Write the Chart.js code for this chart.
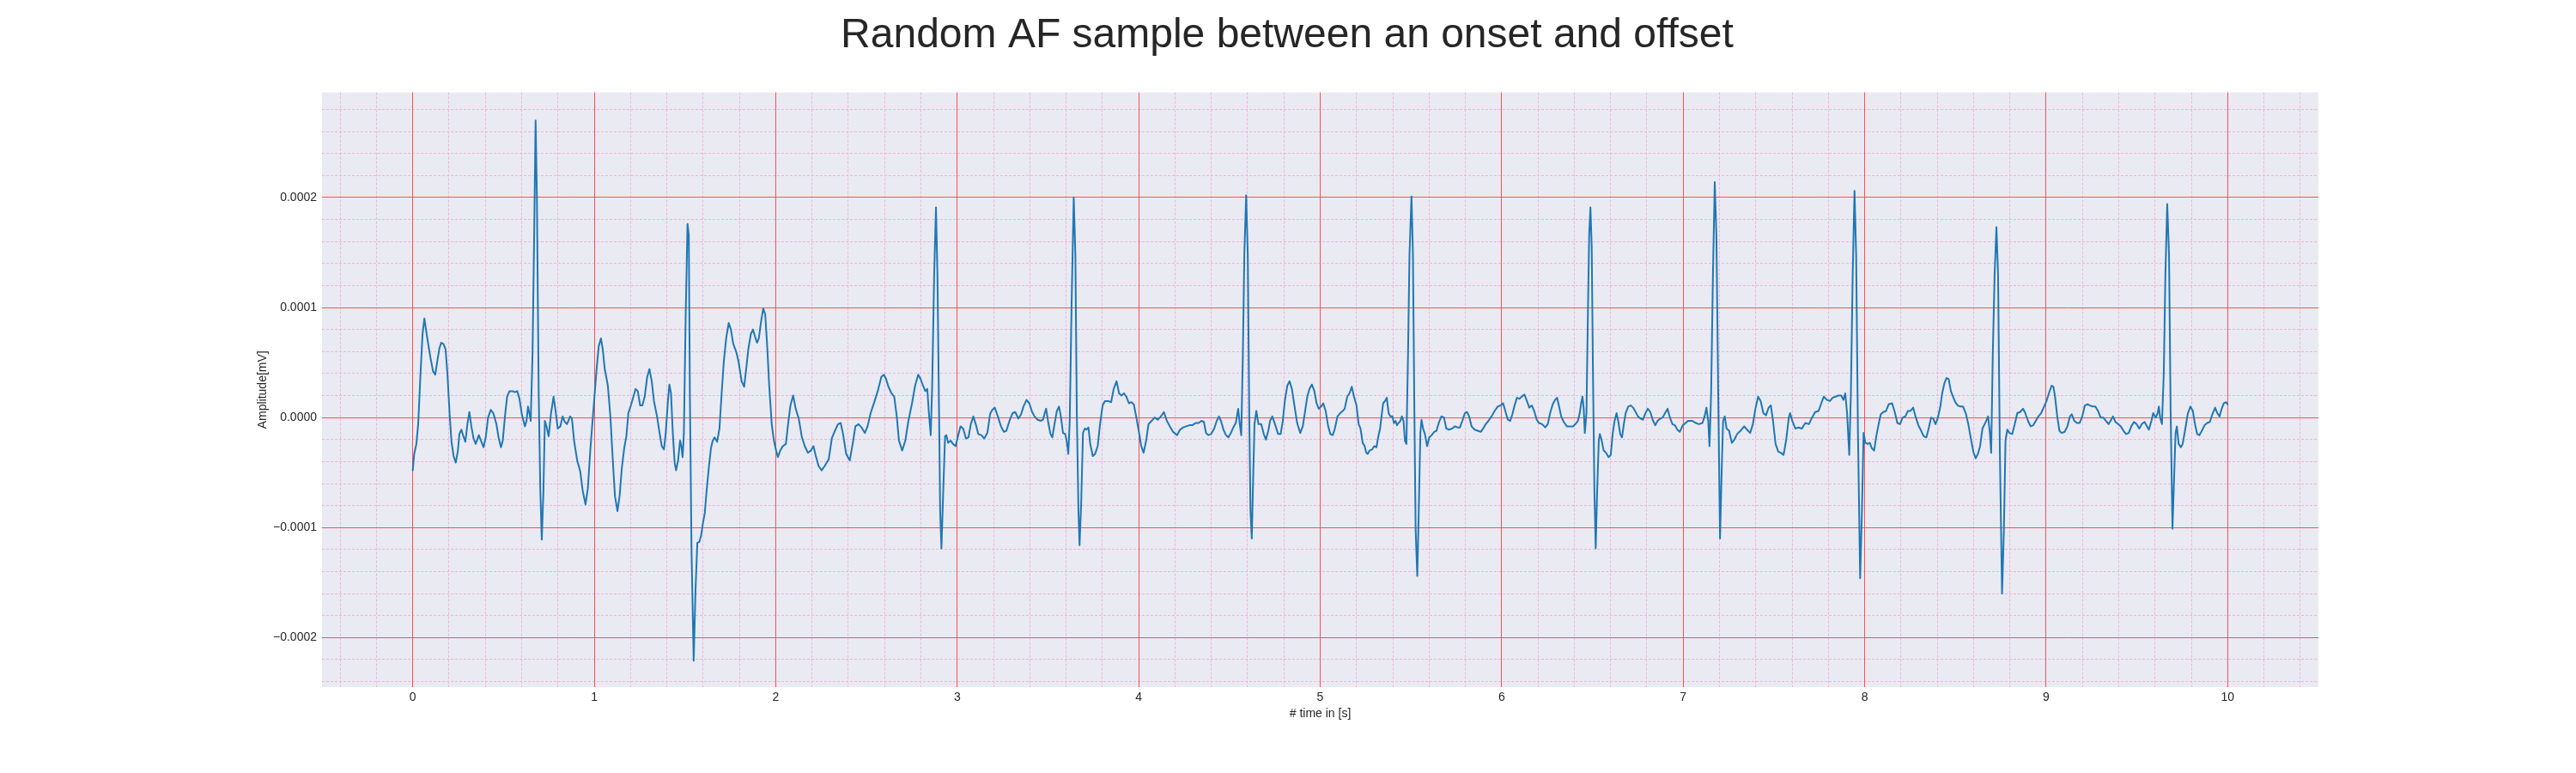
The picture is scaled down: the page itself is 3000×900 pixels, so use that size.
<!DOCTYPE html>
<html>
<head>
<meta charset="utf-8">
<script src="https://cdn.jsdelivr.net/npm/chart.js@4.4.1/dist/chart.umd.min.js"></script>
<style>
  html, body { margin: 0; padding: 0; background: #ffffff; }
  #wrap { width: 3000px; height: 900px; }
</style>
</head>
<body>
<div id="wrap"><canvas id="c" width="3000" height="900"></canvas></div>
<script>
// ---------------- DATA ----------------
const chartTitle = 'Random AF sample between an onset and offset';
const xAxisLabel = '# time in [s]';
const yAxisLabel = 'Amplitude[mV]';

// time in seconds, segment 0 - 2 s
const timeSeg1 = [0.000,0.008,0.020,0.030,0.042,0.054,0.064,0.073,0.085,0.098,0.112,0.124,0.135,0.147,0.157,0.169,0.181,0.191,0.203,0.213,0.225,0.237,0.249,0.257,0.268,0.279,0.290,0.301,0.312,0.323,0.335,0.347,0.364,0.376,0.390,0.403,0.415,0.430,0.444,0.461,0.474,0.486,0.496,0.508,0.520,0.533,0.550,0.562,0.576,0.588,0.601,0.618,0.627,0.635,0.644,0.650,0.660,0.669,0.677,0.684,0.694,0.703,0.711,0.720,0.728,0.737,0.749,0.762,0.776,0.787,0.799,0.813,0.826,0.838,0.850,0.867,0.877,0.889,0.906,0.923,0.936,0.952,0.965,0.979,0.996,1.013,1.025,1.037,1.047,1.058,1.075,1.089,1.101,1.114,1.128,1.140,1.152,1.165,1.177,1.188,1.202,1.216,1.228,1.240,1.253,1.265,1.278,1.292,1.304,1.317,1.329,1.346,1.360,1.372,1.384,1.394,1.406,1.414,1.423,1.433,1.443,1.451,1.462,1.473,1.480,1.487,1.494,1.504,1.514,1.521,1.527,1.536,1.548,1.558,1.568,1.579,1.589,1.599,1.609,1.619,1.631,1.643,1.653,1.663,1.677,1.690,1.702,1.714,1.727,1.741,1.753,1.766,1.782,1.795,1.812,1.826,1.837,1.849,1.863,1.875,1.885,1.897,1.907,1.919,1.931,1.942,1.953,1.964,1.978,1.990,2.002];
const ampSeg1 = [-4.8e-5,-3.3e-5,-2.4e-5,-0.6e-5,3.7e-5,7.6e-5,9.0e-5,8.0e-5,6.7e-5,5.4e-5,4.2e-5,3.9e-5,5.1e-5,6.3e-5,6.8e-5,6.7e-5,6.2e-5,4.0e-5,0.4e-5,-2.1e-5,-3.5e-5,-4.1e-5,-3.0e-5,-1.5e-5,-1.1e-5,-1.7e-5,-2.2e-5,-0.6e-5,0.5e-5,-0.8e-5,-1.9e-5,-2.4e-5,-1.6e-5,-2.1e-5,-2.7e-5,-1.7e-5,0,0.7e-5,0.4e-5,-0.6e-5,-1.9e-5,-2.7e-5,-2.1e-5,0.1e-5,1.9e-5,2.4e-5,2.4e-5,2.3e-5,2.4e-5,1.7e-5,0.3e-5,-0.8e-5,-0.3e-5,1.0e-5,0.3e-5,-0.3e-5,5.8e-5,16.6e-5,27.0e-5,20.1e-5,2.2e-5,-6.7e-5,-11.1e-5,-6.7e-5,-0.3e-5,-0.8e-5,-1.7e-5,0.4e-5,1.9e-5,0.6e-5,-1.0e-5,-0.8e-5,0.1e-5,-0.4e-5,-0.6e-5,0.1e-5,-0.1e-5,-2.1e-5,-3.9e-5,-4.9e-5,-6.6e-5,-7.9e-5,-6.4e-5,-2.8e-5,0.8e-5,4.4e-5,6.5e-5,7.2e-5,6.2e-5,4.4e-5,2.9e-5,0.1e-5,-3.5e-5,-7.1e-5,-8.5e-5,-7.1e-5,-4.6e-5,-2.8e-5,-1.7e-5,0.4e-5,1.1e-5,1.9e-5,2.6e-5,2.4e-5,1.1e-5,1.1e-5,1.9e-5,3.7e-5,4.4e-5,3.3e-5,1.5e-5,0.1e-5,-1.4e-5,-2.6e-5,-2.9e-5,-1.4e-5,1.5e-5,3.0e-5,2.2e-5,-1.4e-5,-4.1e-5,-4.8e-5,-3.9e-5,-2.1e-5,-2.6e-5,-3.6e-5,-1.4e-5,9.4e-5,17.6e-5,16.6e-5,2.2e-5,-12.1e-5,-22.1e-5,-15.7e-5,-11.4e-5,-11.3e-5,-10.7e-5,-9.6e-5,-8.7e-5,-6.7e-5,-4.6e-5,-2.8e-5,-2.1e-5,-1.8e-5,-2.2e-5,-1.0e-5,2.2e-5,5.1e-5,7.2e-5,8.6e-5,8.0e-5,6.7e-5,6.0e-5,5.1e-5,3.3e-5,2.8e-5,4.4e-5,6.2e-5,7.6e-5,8.0e-5,7.4e-5,6.8e-5,7.2e-5,8.7e-5,9.9e-5,9.4e-5,6.5e-5,2.9e-5,-0.6e-5,-2.1e-5,-3.0e-5];

// segment 2 - 4.35 s
const timeSeg2 = [2.012,2.025,2.039,2.056,2.068,2.081,2.096,2.110,2.127,2.143,2.160,2.177,2.194,2.208,2.221,2.236,2.253,2.270,2.292,2.309,2.326,2.343,2.358,2.371,2.388,2.408,2.424,2.439,2.456,2.473,2.491,2.506,2.523,2.545,2.562,2.582,2.596,2.608,2.621,2.638,2.653,2.667,2.679,2.697,2.714,2.731,2.751,2.768,2.785,2.798,2.812,2.824,2.835,2.844,2.854,2.862,2.873,2.883,2.891,2.900,2.906,2.913,2.923,2.933,2.940,2.950,2.964,2.977,2.991,3.004,3.018,3.033,3.048,3.062,3.075,3.089,3.102,3.116,3.133,3.149,3.166,3.181,3.193,3.207,3.224,3.241,3.257,3.271,3.288,3.305,3.320,3.337,3.352,3.365,3.382,3.397,3.413,3.426,3.443,3.460,3.473,3.482,3.490,3.502,3.514,3.524,3.536,3.549,3.561,3.571,3.583,3.595,3.603,3.612,3.620,3.630,3.642,3.651,3.659,3.668,3.674,3.683,3.693,3.703,3.713,3.723,3.733,3.747,3.760,3.774,3.787,3.801,3.814,3.831,3.848,3.862,3.878,3.892,3.905,3.919,3.932,3.946,3.959,3.973,3.986,4.000,4.014,4.027,4.041,4.054,4.071,4.088,4.105,4.122,4.139,4.155,4.172,4.189,4.211,4.228,4.245,4.262,4.279,4.296,4.313,4.330,4.346];
const ampSeg2 = [-3.6e-5,-3.0e-5,-2.6e-5,-2.4e-5,-0.6e-5,1.1e-5,2.0e-5,0.8e-5,-0.1e-5,-1.7e-5,-2.6e-5,-3.2e-5,-3.0e-5,-2.6e-5,-3.5e-5,-4.4e-5,-4.8e-5,-4.4e-5,-3.8e-5,-1.9e-5,-1.2e-5,-0.6e-5,-0.5e-5,-1.5e-5,-3.3e-5,-3.9e-5,-2.4e-5,-0.8e-5,-0.6e-5,-0.9e-5,-1.4e-5,-0.8e-5,0.4e-5,1.5e-5,2.4e-5,3.7e-5,3.9e-5,3.5e-5,2.8e-5,2.2e-5,1.9e-5,0.1e-5,-2.1e-5,-3.0e-5,-2.1e-5,-0.3e-5,1.3e-5,2.9e-5,3.9e-5,3.5e-5,2.9e-5,2.4e-5,2.6e-5,0.4e-5,-1.6e-5,2.9e-5,13.0e-5,19.1e-5,13.0e-5,0.4e-5,-8.5e-5,-11.9e-5,-6.7e-5,-1.7e-5,-1.6e-5,-2.3e-5,-2.1e-5,-2.4e-5,-2.6e-5,-1.7e-5,-0.8e-5,-1.0e-5,-1.9e-5,-1.8e-5,-0.6e-5,0.1e-5,-0.6e-5,-1.5e-5,-1.6e-5,-1.9e-5,-1.4e-5,0.3e-5,0.7e-5,0.9e-5,0.1e-5,-0.8e-5,-1.3e-5,-1.2e-5,-0.3e-5,0.4e-5,0.5e-5,-0.1e-5,0.3e-5,1.0e-5,1.6e-5,1.3e-5,0.5e-5,0.1e-5,-0.2e-5,-0.3e-5,-0.2e-5,0.4e-5,0.8e-5,-0.5e-5,-1.5e-5,-1.8e-5,-0.6e-5,0.6e-5,1.0e-5,0.1e-5,-1.4e-5,-1.5e-5,-2.1e-5,-3.3e-5,-0.3e-5,10.1e-5,20.0e-5,14.8e-5,0.4e-5,-8.5e-5,-11.6e-5,-7.8e-5,-1.4e-5,-1.0e-5,-1.1e-5,-0.9e-5,-2.4e-5,-3.5e-5,-3.3e-5,-2.6e-5,-0.6e-5,1.1e-5,1.5e-5,1.5e-5,1.4e-5,2.6e-5,3.3e-5,2.2e-5,2.0e-5,2.2e-5,1.9e-5,1.3e-5,1.4e-5,1.2e-5,0.1e-5,-1.2e-5,-2.6e-5,-3.2e-5,-2.1e-5,-0.6e-5,-0.3e-5,0,-0.2e-5,0.1e-5,0.5e-5,-0.3e-5,-0.8e-5,-1.3e-5,-1.6e-5,-1.1e-5,-0.9e-5,-0.8e-5,-0.7e-5,-0.7e-5,-0.5e-5,-0.5e-5,-0.3e-5];

// segment 4.35 - 7 s
const timeSeg3 = [4.359,4.371,4.383,4.399,4.416,4.430,4.442,4.453,4.467,4.481,4.494,4.508,4.521,4.535,4.548,4.557,4.565,4.574,4.582,4.592,4.601,4.609,4.616,4.623,4.629,4.638,4.648,4.660,4.675,4.689,4.701,4.714,4.724,4.736,4.751,4.768,4.782,4.794,4.805,4.819,4.831,4.844,4.858,4.873,4.890,4.904,4.917,4.929,4.941,4.954,4.968,4.980,4.992,5.005,5.017,5.030,5.044,5.056,5.069,5.081,5.095,5.110,5.124,5.135,5.149,5.161,5.174,5.186,5.200,5.212,5.222,5.234,5.245,5.254,5.262,5.272,5.286,5.298,5.310,5.318,5.330,5.340,5.347,5.357,5.367,5.377,5.387,5.398,5.406,5.415,5.423,5.431,5.442,5.450,5.459,5.467,5.475,5.484,5.492,5.503,5.511,5.519,5.526,5.535,5.543,5.552,5.558,5.567,5.577,5.589,5.601,5.614,5.628,5.641,5.655,5.668,5.682,5.695,5.709,5.726,5.743,5.756,5.770,5.783,5.797,5.809,5.821,5.834,5.851,5.868,5.885,5.898,5.912,5.927,5.944,5.961,5.978,5.995,6.008,6.020,6.034,6.047,6.059,6.071,6.084,6.098,6.111,6.125,6.139,6.152,6.166,6.179,6.193,6.206,6.223,6.240,6.254,6.267,6.281,6.294,6.305,6.315,6.328,6.342,6.359,6.376,6.393,6.406,6.420,6.430,6.438,6.445,6.452,6.458,6.467,6.475,6.482,6.489,6.496,6.503,6.511,6.518,6.526,6.535,6.541,6.551,6.562,6.575,6.589,6.601,6.612,6.622,6.633,6.643,6.653,6.663,6.673,6.683,6.697,6.711,6.724,6.738,6.751,6.765,6.778,6.792,6.805,6.819,6.832,6.846,6.859,6.873,6.887,6.900,6.914,6.927,6.941,6.954,6.968,6.981,6.998];
const ampSeg3 = [-0.4e-5,-1.4e-5,-1.6e-5,-1.5e-5,-1.0e-5,-0.3e-5,0.1e-5,-0.3e-5,-1.1e-5,-1.6e-5,-1.8e-5,-1.4e-5,-0.9e-5,-0.5e-5,0.8e-5,-0.6e-5,-1.6e-5,5.8e-5,14.8e-5,20.2e-5,14.8e-5,0.4e-5,-8.5e-5,-11.0e-5,-6.7e-5,-0.6e-5,0.6e-5,-0.6e-5,-0.6e-5,-1.5e-5,-2.0e-5,-1.2e-5,-0.3e-5,0.1e-5,-0.6e-5,-1.5e-5,-1.5e-5,-0.3e-5,1.5e-5,2.9e-5,3.3e-5,2.6e-5,1.1e-5,-0.5e-5,-1.4e-5,-0.8e-5,0.6e-5,1.9e-5,2.6e-5,3.0e-5,2.4e-5,1.3e-5,0.8e-5,1.0e-5,1.3e-5,0.6e-5,-0.8e-5,-1.5e-5,-1.6e-5,-1.0e-5,0.1e-5,0.4e-5,0.6e-5,0.8e-5,1.9e-5,2.2e-5,2.8e-5,1.9e-5,1.1e-5,-0.6e-5,-1.0e-5,-2.3e-5,-2.6e-5,-3.2e-5,-3.3e-5,-3.0e-5,-2.9e-5,-2.6e-5,-2.7e-5,-1.9e-5,-1.0e-5,0.4e-5,1.3e-5,1.5e-5,1.8e-5,0.4e-5,0.1e-5,0.1e-5,-0.5e-5,-0.3e-5,-0.7e-5,-0.5e-5,-0.3e-5,0.1e-5,-0.3e-5,-2.1e-5,-2.4e-5,5.8e-5,14.8e-5,20.1e-5,14.8e-5,0.4e-5,-10.3e-5,-14.4e-5,-8.5e-5,-1.4e-5,-0.2e-5,-1.0e-5,-1.5e-5,-2.6e-5,-1.8e-5,-1.6e-5,-1.3e-5,-1.2e-5,-0.4e-5,0.1e-5,0,-1.0e-5,-1.1e-5,-1.0e-5,-0.8e-5,-0.9e-5,-0.9e-5,-0.3e-5,0.4e-5,0.5e-5,0.1e-5,-0.8e-5,-1.1e-5,-1.2e-5,-1.3e-5,-1.0e-5,-0.6e-5,-0.3e-5,0.1e-5,0.6e-5,1.0e-5,1.1e-5,1.3e-5,0.6e-5,-0.2e-5,-0.3e-5,0.3e-5,1.1e-5,1.8e-5,1.7e-5,1.9e-5,2.1e-5,1.5e-5,0.9e-5,1.1e-5,0.6e-5,-0.2e-5,-0.5e-5,-0.6e-5,-0.9e-5,-0.6e-5,0.4e-5,1.2e-5,1.6e-5,1.8e-5,1.1e-5,0.1e-5,-0.4e-5,-0.8e-5,-0.8e-5,-0.8e-5,-0.6e-5,-0.3e-5,0.4e-5,1.3e-5,1.9e-5,0.8e-5,-1.4e-5,0.4e-5,9.4e-5,16.6e-5,19.1e-5,15.5e-5,4.0e-5,-6.7e-5,-11.9e-5,-6.7e-5,-2.1e-5,-1.5e-5,-2.1e-5,-3.0e-5,-3.2e-5,-3.6e-5,-3.4e-5,-1.4e-5,-0.3e-5,0.4e-5,-0.4e-5,-1.5e-5,-1.8e-5,-0.6e-5,0.4e-5,1.0e-5,1.1e-5,0.9e-5,0.5e-5,0.1e-5,-0.1e-5,-0.2e-5,0.4e-5,0.8e-5,0.5e-5,-0.2e-5,-0.7e-5,-0.3e-5,-0.1e-5,0,0.4e-5,0.8e-5,0,-0.6e-5,-0.7e-5,-1.1e-5,-1.3e-5,-0.7e-5];

// segment 7 - 10 s
const timeSeg4 = [7.027,7.051,7.070,7.087,7.106,7.118,7.128,7.138,7.145,7.154,7.164,7.174,7.183,7.193,7.203,7.212,7.220,7.229,7.239,7.253,7.268,7.282,7.297,7.316,7.336,7.352,7.369,7.384,7.398,7.413,7.427,7.442,7.456,7.471,7.483,7.495,7.509,7.524,7.538,7.553,7.567,7.582,7.589,7.601,7.618,7.635,7.654,7.673,7.693,7.707,7.727,7.746,7.761,7.775,7.792,7.809,7.823,7.840,7.854,7.871,7.883,7.893,7.903,7.915,7.924,7.934,7.944,7.953,7.963,7.975,7.985,7.994,8.004,8.016,8.028,8.040,8.052,8.064,8.077,8.089,8.103,8.118,8.132,8.151,8.166,8.180,8.195,8.209,8.224,8.238,8.253,8.267,8.282,8.296,8.311,8.325,8.340,8.354,8.366,8.378,8.390,8.402,8.417,8.427,8.439,8.451,8.463,8.475,8.487,8.499,8.513,8.528,8.542,8.557,8.571,8.586,8.600,8.612,8.624,8.636,8.649,8.661,8.670,8.680,8.690,8.697,8.706,8.716,8.726,8.735,8.745,8.757,8.767,8.776,8.786,8.798,8.813,8.827,8.841,8.856,8.873,8.885,8.900,8.914,8.929,8.943,8.957,8.972,8.986,9.002,9.015,9.030,9.040,9.049,9.061,9.073,9.085,9.102,9.117,9.131,9.141,9.155,9.170,9.184,9.199,9.213,9.228,9.242,9.257,9.271,9.286,9.300,9.315,9.329,9.344,9.358,9.368,9.382,9.397,9.411,9.426,9.440,9.455,9.469,9.484,9.498,9.513,9.527,9.542,9.556,9.566,9.580,9.590,9.604,9.614,9.621,9.628,9.638,9.648,9.657,9.667,9.677,9.686,9.696,9.706,9.713,9.720,9.730,9.742,9.752,9.767,9.781,9.795,9.808,9.820,9.832,9.844,9.858,9.873,9.887,9.902,9.916,9.931,9.943,9.955,9.967,9.979,9.991,10.000];
const ampSeg4 = [-0.3e-5,-0.3e-5,-0.5e-5,-0.6e-5,-0.5e-5,0.1e-5,0.9e-5,-0.3e-5,-2.6e-5,2.2e-5,13.0e-5,21.4e-5,16.6e-5,2.2e-5,-11.0e-5,-4.9e-5,-0.3e-5,0.1e-5,-1.0e-5,-1.2e-5,-2.3e-5,-2.0e-5,-1.5e-5,-1.2e-5,-0.8e-5,-1.1e-5,-1.4e-5,-0.6e-5,0.8e-5,1.9e-5,1.5e-5,0.4e-5,0.2e-5,0.9e-5,1.1e-5,-0.3e-5,-2.4e-5,-3.1e-5,-3.2e-5,-3.4e-5,-2.1e-5,0,0.4e-5,-0.3e-5,-1.0e-5,-0.9e-5,-1.0e-5,-0.5e-5,-0.6e-5,-0.1e-5,0.5e-5,0.6e-5,1.3e-5,1.9e-5,1.6e-5,1.5e-5,1.8e-5,1.9e-5,2.0e-5,2.0e-5,1.6e-5,2.2e-5,0.4e-5,-3.4e-5,2.2e-5,13.0e-5,20.6e-5,14.8e-5,-1.4e-5,-14.6e-5,-8.5e-5,-1.4e-5,-2.3e-5,-2.4e-5,-2.3e-5,-2.8e-5,-3.0e-5,-1.7e-5,-0.6e-5,0.3e-5,0.5e-5,0.6e-5,1.2e-5,1.3e-5,0.5e-5,-0.5e-5,-0.6e-5,0,0.1e-5,0.6e-5,0.6e-5,0.9e-5,0,-0.7e-5,-1.2e-5,-1.7e-5,-1.8e-5,-0.9e-5,0,-0.1e-5,-0.6e-5,-0.1e-5,1.0e-5,2.2e-5,3.1e-5,3.6e-5,3.5e-5,2.4e-5,1.9e-5,1.4e-5,1.1e-5,1.0e-5,1.0e-5,0.4e-5,-0.6e-5,-2.0e-5,-3.2e-5,-3.7e-5,-3.3e-5,-2.6e-5,-1.0e-5,-0.6e-5,-0.3e-5,0.1e-5,-1.4e-5,-3.2e-5,5.8e-5,13.0e-5,17.3e-5,13.0e-5,-3.2e-5,-16.0e-5,-10.3e-5,-2.1e-5,-1.1e-5,-1.4e-5,-1.5e-5,-0.6e-5,0.4e-5,0.5e-5,0.8e-5,0.4e-5,-0.3e-5,-0.8e-5,-0.7e-5,-0.3e-5,0.1e-5,0.4e-5,0.9e-5,1.5e-5,2.2e-5,2.9e-5,2.8e-5,1.9e-5,0.1e-5,-1.2e-5,-1.4e-5,-1.3e-5,-0.8e-5,0.1e-5,0.3e-5,-0.3e-5,-0.5e-5,-0.5e-5,0.1e-5,1.1e-5,1.2e-5,1.1e-5,1.0e-5,1.0e-5,0.6e-5,0,0,-0.3e-5,-0.6e-5,-0.2e-5,0.1e-5,-0.4e-5,-0.6e-5,-0.8e-5,-1.2e-5,-1.5e-5,-1.4e-5,-0.8e-5,-0.4e-5,-0.6e-5,-1.0e-5,-0.6e-5,-0.4e-5,-0.8e-5,-1.1e-5,-0.3e-5,0.4e-5,0,0.4e-5,1.0e-5,0,-0.6e-5,4.0e-5,13.0e-5,19.4e-5,14.8e-5,0.4e-5,-10.1e-5,-4.9e-5,-1.4e-5,-0.8e-5,-2.4e-5,-2.7e-5,-2.4e-5,-1.0e-5,0.4e-5,1.0e-5,0.6e-5,-0.6e-5,-1.5e-5,-1.6e-5,-1.2e-5,-0.7e-5,-0.5e-5,-0.4e-5,0.3e-5,0.9e-5,0.4e-5,0.1e-5,0.8e-5,1.3e-5,1.4e-5,1.2e-5];

// axis ticks
const xMajorTicks = [0,1,2,3,4,5,6,7,8,9,10];
const xMinorStep = 0.2;
const yMajorTicks = [-0.0002,-0.0001,0,0.0001,0.0002];
const yMinorStep = 0.00002;
const xRange = [-0.5, 10.5];
const yRange = [-0.000245, 0.0002955];

// ---------------- BUILD ----------------
const timeSec = [].concat(timeSeg1, timeSeg2, timeSeg3, timeSeg4);
const amplitude = [].concat(ampSeg1, ampSeg2, ampSeg3, ampSeg4);
const points = timeSec.map((t, i) => ({ x: t, y: amplitude[i] }));

function minorTicks(range, step) {
  const out = [];
  const start = Math.ceil(range[0] / step - 1e-9);
  const end = Math.floor(range[1] / step + 1e-9);
  for (let k = start; k <= end; k++) out.push({ value: Math.round(k * step * 1e9) / 1e9 });
  return out;
}

const FONT = "'Liberation Sans', Arial, Helvetica, sans-serif";
const TEXT = '#262626';
const MAJOR = '#ff4f4f';
const MINOR = '#efb3de';

const bgPlugin = {
  id: 'bg',
  beforeDraw(chart) {
    const { ctx, chartArea: a } = chart;
    ctx.save();
    ctx.fillStyle = '#ffffff';
    ctx.fillRect(0, 0, chart.width, chart.height);
    ctx.fillStyle = '#eaeaf2';
    ctx.fillRect(a.left, a.top, a.right - a.left, a.bottom - a.top);
    ctx.restore();
  }
};

new Chart(document.getElementById('c'), {
  type: 'line',
  data: {
    datasets: [{
      data: points,
      xAxisID: 'x',
      yAxisID: 'y',
      borderColor: '#1f77b4',
      borderWidth: 2,
      pointRadius: 0,
      pointHoverRadius: 0,
      tension: 0,
      fill: false,
      borderJoinStyle: 'round',
      borderCapStyle: 'round'
    }]
  },
  options: {
    responsive: false,
    animation: false,
    devicePixelRatio: 1,
    events: [],
    layout: { padding: { left: 298, right: 300, top: 0, bottom: 60 } },
    plugins: {
      legend: { display: false },
      tooltip: { enabled: false },
      title: {
        display: true,
        text: chartTitle,
        color: TEXT,
        font: { family: FONT, size: 48, weight: 'normal', lineHeight: 1.2 },
        padding: { top: 13, bottom: 37 }
      }
    },
    scales: {
      xMinor: {
        type: 'linear', axis: 'x', position: 'bottom',
        min: xRange[0], max: xRange[1],
        afterBuildTicks(s) { s.ticks = minorTicks(xRange, xMinorStep); },
        afterFit(s) { s.height = 0; },
        ticks: { display: false },
        grid: { color: MINOR, lineWidth: 1, drawTicks: false },
        border: { display: false, dash: [3, 2] },
        z: -2
      },
      yMinor: {
        type: 'linear', axis: 'y', position: 'left',
        min: yRange[0], max: yRange[1],
        afterBuildTicks(s) { s.ticks = minorTicks(yRange, yMinorStep); },
        afterFit(s) { s.width = 0; },
        ticks: { display: false },
        grid: { color: MINOR, lineWidth: 1, drawTicks: false },
        border: { display: false, dash: [3, 2] },
        z: -2
      },
      x: {
        type: 'linear', axis: 'x', position: 'bottom',
        min: xRange[0], max: xRange[1],
        afterBuildTicks(s) { s.ticks = xMajorTicks.map(v => ({ value: v })); },
        afterFit(s) { s.height = 40; },
        ticks: {
          color: TEXT, padding: 4, maxRotation: 0, autoSkip: false,
          font: { family: FONT, size: 14 },
          callback: v => String(v)
        },
        grid: { color: MAJOR, lineWidth: 1, drawTicks: false },
        border: { display: false },
        title: {
          display: true, text: xAxisLabel, color: TEXT,
          font: { family: FONT, size: 14 }, padding: { top: 0, bottom: 0 }
        },
        z: -1
      },
      y: {
        type: 'linear', axis: 'y', position: 'left',
        min: yRange[0], max: yRange[1],
        afterBuildTicks(s) { s.ticks = yMajorTicks.map(v => ({ value: v })); },
        afterFit(s) { s.width = 77; },
        ticks: {
          color: TEXT, padding: 6, autoSkip: false,
          font: { family: FONT, size: 14 },
          callback: v => Number(v).toFixed(4).replace('-', '\u2212')
        },
        grid: { color: MAJOR, lineWidth: 1, drawTicks: false },
        border: { display: false },
        title: {
          display: true, text: yAxisLabel, color: TEXT,
          font: { family: FONT, size: 14 }, padding: { top: 0, bottom: 0 }
        },
        z: -1
      }
    }
  },
  plugins: [bgPlugin]
});
</script>
</body>
</html>
